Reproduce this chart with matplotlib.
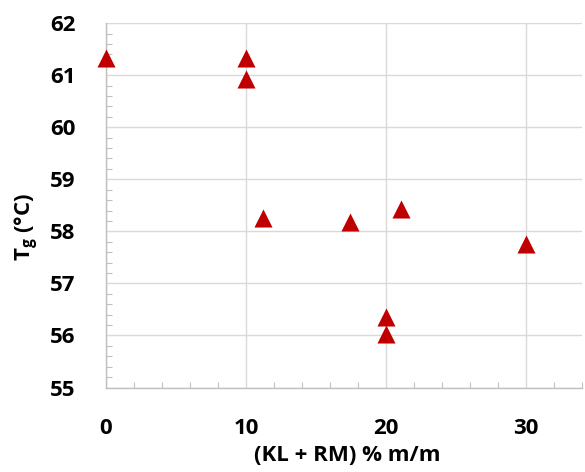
import matplotlib
matplotlib.use("Agg")
import matplotlib.pyplot as plt
from matplotlib.ticker import MultipleLocator

# (KL + RM) content, % m/m  and glass transition temperature, °C
kl_rm = [0, 10, 10, 11.2, 17.4, 21.1, 30, 20, 20]
tg = [61.33, 61.33, 60.92, 58.26, 58.17, 58.43, 57.75, 56.36, 56.03]

RED, GRID, AXIS = "#c00000", "#d9d9d9", "#bfbfbf"
plt.rcParams["font.family"] = ["Open Sans", "DejaVu Sans"]
plt.rcParams["font.weight"] = "bold"
plt.rcParams["mathtext.fontset"] = "custom"
plt.rcParams["mathtext.rm"] = "Open Sans:bold"
plt.rcParams["mathtext.bf"] = "Open Sans:bold"
plt.rcParams["mathtext.it"] = "Open Sans:bold"

fig = plt.figure(figsize=(5.85, 4.72), dpi=100)
ax = fig.add_axes([0.181, 0.179, 0.814, 0.772])

ax.scatter(kl_rm, tg, marker="^", s=13 ** 2, color=RED, linewidths=0,
           zorder=3, clip_on=False)

ax.set_xlim(0, 34)
ax.set_ylim(55, 62)
ax.xaxis.set_major_locator(MultipleLocator(10))
ax.xaxis.set_minor_locator(MultipleLocator(2))
ax.yaxis.set_major_locator(MultipleLocator(1))
ax.yaxis.set_minor_locator(MultipleLocator(0.2))
ax.grid(True, which="major", color=GRID, linewidth=1)
ax.set_axisbelow(True)

for side in ("top", "right"):
    ax.spines[side].set_visible(False)
for side in ("left", "bottom"):
    ax.spines[side].set_color(AXIS)
    ax.spines[side].set_linewidth(1)

ax.tick_params(which="major", length=0, labelsize=16, pad=22)
ax.tick_params(axis="x", which="major", pad=22)
ax.tick_params(which="minor", direction="in", length=4.5, color=AXIS, width=0.8)

fig.text(0.593, 0.036, "(KL + RM) % m/m", ha="center", va="center",
         fontsize=16, fontweight="bold")
fig.text(0.046, 0.52, r"T$_\mathrm{g}$ (°C)", ha="center", va="center",
         rotation=90, fontsize=16, fontweight="bold")

fig.savefig("out.png", dpi=100)
